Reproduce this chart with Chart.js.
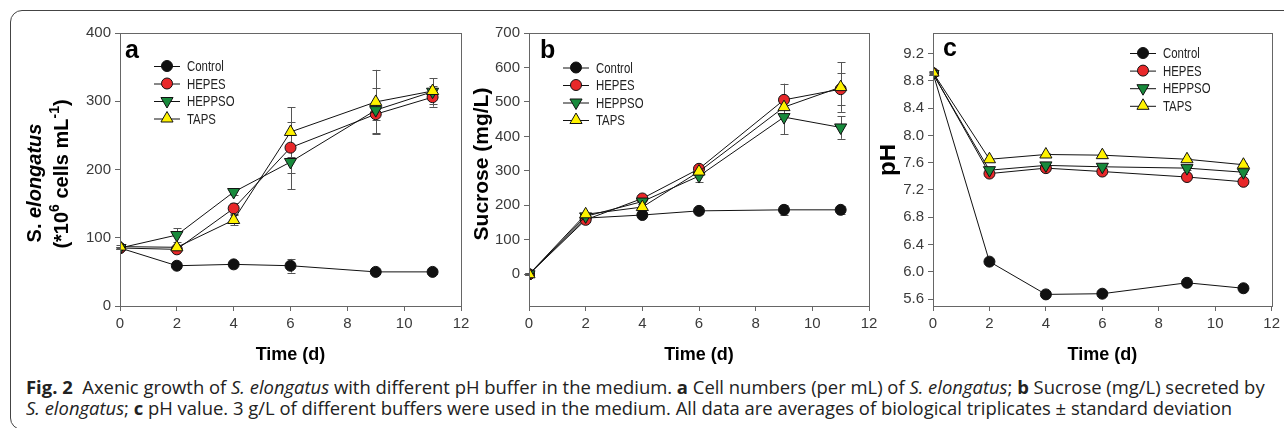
<!DOCTYPE html>
<html>
<head>
<meta charset="utf-8">
<script src="https://cdn.jsdelivr.net/npm/chart.js@4.4.0/dist/chart.umd.min.js"></script>
<style>
body { margin: 0; background: #fff; width: 1284px; height: 428px; overflow: hidden; position: relative; font-family: "Liberation Sans", Arial, sans-serif; }
#frame { position: absolute; left: 10px; top: 10px; width: 1300px; height: 420px; border: 1px solid #444; border-radius: 12px; box-sizing: border-box; }
canvas { position: absolute; top: 0; }
.cap { position: absolute; left: 26px; white-space: nowrap; font-family: "Open Sans", sans-serif; font-size: 18px; color: #222; transform-origin: 0 50%; line-height: 20px; }
</style>
</head>
<body>
<div id="frame"></div>
<canvas id="chartA" width="500" height="370" style="left:0px"></canvas>
<canvas id="chartB" width="460" height="370" style="left:440px"></canvas>
<canvas id="chartC" width="404" height="370" style="left:880px"></canvas>
<div class="cap" id="cap1" style="top:377px"><b>Fig. 2</b>&nbsp; Axenic growth of <i>S. elongatus</i> with different pH buffer in the medium. <b>a</b> Cell numbers (per mL) of <i>S. elongatus</i>; <b>b</b> Sucrose (mg/L) secreted by</div>
<div class="cap" id="cap2" style="top:398px"><i>S. elongatus</i>; <b>c</b> pH value. 3 g/L of different buffers were used in the medium. All data are averages of biological triplicates ± standard deviation</div>
<script>
// 공통 데이터
const days = [0, 2, 4, 6, 9, 11];
const seriesNames = ['Control', 'HEPES', 'HEPPSO', 'TAPS'];
const xTicks = [0, 2, 4, 6, 8, 10, 12];

// a: 세포 수 (*10^6 cells/mL)
const cellsControl = [85, 59, 61, 59, 50, 50];
const cellsHepes = [85, 83, 143, 232, 281, 306];
const cellsHeppso = [85, 104, 167, 211, 287, 314];
const cellsTaps = [87, 86, 126, 255, 299, 315];
const cellsControlErr = [2, 3, 3, 10, 3, 3];
const cellsHepesErr = [2, 3, 8, 37, 8, 14];
const cellsHeppsoErr = [2, 10, 5, 40, 33, 8];
const cellsTapsErr = [2, 3, 8, 36, 47, 19];
const cellsTicks = [0, 100, 200, 300, 400];

// b: 수크로스 (mg/L)
const sucControl = [0, 163, 172, 184, 187, 187];
const sucHepes = [0, 158, 220, 306, 506, 537];
const sucHeppso = [0, 168, 211, 285, 456, 426];
const sucTaps = [0, 174, 195, 298, 485, 543];
const sucControlErr = [2, 5, 8, 10, 15, 12];
const sucHepesErr = [3, 5, 8, 10, 47, 47];
const sucHeppsoErr = [3, 5, 8, 17, 50, 33];
const sucTapsErr = [3, 5, 8, 10, 20, 72];
const sucTicks = [0, 100, 200, 300, 400, 500, 600, 700];

// c: pH
const phControl = [8.91, 6.15, 5.67, 5.68, 5.84, 5.76];
const phHepes = [8.91, 7.44, 7.52, 7.47, 7.39, 7.32];
const phHeppso = [8.90, 7.49, 7.56, 7.54, 7.52, 7.46];
const phTaps = [8.92, 7.65, 7.72, 7.71, 7.65, 7.57];
const phErr = [0.02, 0.02, 0.02, 0.02, 0.02, 0.02];
const phTicks = [5.6, 6.0, 6.4, 6.8, 7.2, 7.6, 8.0, 8.4, 8.8, 9.2];

// 마커 스타일
const styles = [
    { pointStyle: 'circle', rotation: 0, radius: 5.5, color: '#111111' },   // Control
    { pointStyle: 'circle', rotation: 0, radius: 5.5, color: '#e8282a' },   // HEPES
    { pointStyle: 'triangle', rotation: 180, radius: 7, color: '#188a3c' }, // HEPPSO
    { pointStyle: 'triangle', rotation: 0, radius: 7, color: '#fff200' }    // TAPS
];
const AXIS = '#666666';
const FONT = '"Liberation Sans", Arial, sans-serif';

function makeDatasets(values, errs) {
    return values.map(function(vals, i) {
        const st = styles[i];
        return {
            label: seriesNames[i],
            data: vals.map(function(v, k) { return { x: days[k], y: v }; }),
            errors: errs[i],
            borderColor: '#111',
            borderWidth: 1,
            pointStyle: st.pointStyle,
            rotation: st.rotation,
            pointRadius: st.radius,
            pointBackgroundColor: st.color,
            pointBorderColor: '#111',
            pointBorderWidth: 1,
            order: 3 - i,
            tension: 0
        };
    });
}

// 제목, 범례, 오차 막대를 그리는 플러그인
const panelPlugin = {
    id: 'panel',
    beforeDatasetsDraw: function(chart) {
        const ctx = chart.ctx;
        const ys = chart.scales.y, xs = chart.scales.x;
        ctx.save();
        ctx.strokeStyle = '#555';
        ctx.lineWidth = 1;
        chart.data.datasets.forEach(function(ds) {
            ds.data.forEach(function(p, k) {
                const e = ds.errors[k];
                if (!e) return;
                const px = Math.round(xs.getPixelForValue(p.x)) + 0.5;
                const y1 = ys.getPixelForValue(p.y + e), y2 = ys.getPixelForValue(p.y - e);
                ctx.beginPath();
                ctx.moveTo(px, y1); ctx.lineTo(px, y2);
                ctx.moveTo(px - 4, Math.round(y1) + 0.5); ctx.lineTo(px + 4, Math.round(y1) + 0.5);
                ctx.moveTo(px - 4, Math.round(y2) + 0.5); ctx.lineTo(px + 4, Math.round(y2) + 0.5);
                ctx.stroke();
            });
        });
        ctx.restore();
    },
    afterDraw: function(chart) {
        const o = chart.options.plugins.panel;
        const ctx = chart.ctx;
        const a = chart.chartArea;
        ctx.save();
        // 플롯 테두리
        ctx.strokeStyle = AXIS;
        ctx.lineWidth = 1;
        ctx.strokeRect(Math.round(a.left) + 0.5, Math.round(a.top) + 0.5, Math.round(a.right - a.left), Math.round(a.bottom - a.top));
        // 패널 문자
        ctx.fillStyle = '#000';
        ctx.font = 'bold 25px ' + FONT;
        ctx.textBaseline = 'middle';
        ctx.textAlign = 'left';
        ctx.fillText(o.letter, o.letterX, o.letterY);
        // x축 제목
        ctx.font = 'bold 18px ' + FONT;
        ctx.textAlign = 'center';
        ctx.fillText('Time (d)', (a.left + a.right) / 2, 355);
        // y축 제목
        o.yTitle.forEach(function(line) {
            drawRotatedRuns(ctx, line.runs, line.x, line.y, line.size || 20);
        });
        // 범례 (좁은 글꼴 느낌으로 가로 축소)
        ctx.font = '15px ' + FONT;
        ctx.textAlign = 'left';
        seriesNames.forEach(function(name, i) {
            const ly = o.legendY + i * o.legendGap;
            ctx.strokeStyle = '#111';
            ctx.lineWidth = 1;
            ctx.beginPath();
            ctx.moveTo(o.legendX, ly + 0.5); ctx.lineTo(o.legendX + 26, ly + 0.5);
            ctx.stroke();
            ctx.fillStyle = styles[i].color;
            ctx.strokeStyle = '#111';
            Chart.helpers.drawPoint(ctx, { pointStyle: styles[i].pointStyle, rotation: styles[i].rotation, radius: styles[i].radius, borderWidth: 1 }, o.legendX + 13, ly);
            ctx.save();
            ctx.translate(o.legendX + 33, ly + 1);
            ctx.scale(0.76, 1);
            ctx.fillStyle = '#222';
            ctx.fillText(name, 0, 0);
            ctx.restore();
        });
        ctx.restore();
    }
};

// 회전된 제목 (굵게/기울임/위첨자 혼합)
function drawRotatedRuns(ctx, runs, cx, cy, size) {
    ctx.save();
    ctx.translate(cx, cy);
    ctx.rotate(-Math.PI / 2);
    ctx.fillStyle = '#000';
    ctx.textBaseline = 'middle';
    ctx.textAlign = 'left';
    const fonts = runs.map(function(r) {
        const s = r.sup ? Math.round(size * 0.68) : size;
        return (r.italic ? 'italic ' : '') + 'bold ' + s + 'px ' + FONT;
    });
    let total = 0;
    runs.forEach(function(r, i) { ctx.font = fonts[i]; total += ctx.measureText(r.t).width; });
    let x = -total / 2;
    runs.forEach(function(r, i) {
        ctx.font = fonts[i];
        ctx.fillText(r.t, x, r.sup ? -7 : 0);
        x += ctx.measureText(r.t).width;
    });
    ctx.restore();
}

function makeChart(id, datasets, yMin, yMax, yTicks, yWidth, padRight, decimals, panel) {
    return new Chart(document.getElementById(id).getContext('2d'), {
        type: 'line',
        data: { datasets: datasets },
        options: {
            responsive: false,
            animation: false,
            layout: { padding: { left: 0, top: 33, right: padRight, bottom: 0 } },
            plugins: { legend: { display: false }, tooltip: { enabled: false }, panel: panel },
            scales: {
                x: {
                    type: 'linear', min: 0, max: 12,
                    afterBuildTicks: function(s) { s.ticks = xTicks.map(function(v) { return { value: v }; }); },
                    afterFit: function(s) { s.height = 64; },
                    grid: { drawOnChartArea: false, drawTicks: true, tickLength: 5, color: AXIS },
                    border: { color: AXIS },
                    ticks: { color: '#3a3a3a', font: { size: 15, family: FONT }, padding: 4, maxRotation: 0, autoSkip: false }
                },
                y: {
                    type: 'linear', min: yMin, max: yMax,
                    afterBuildTicks: function(s) { s.ticks = yTicks.map(function(v) { return { value: v }; }); },
                    afterFit: function(s) { s.width = yWidth; },
                    grid: { drawOnChartArea: false, drawTicks: true, tickLength: 5, color: AXIS },
                    border: { color: AXIS },
                    ticks: {
                        color: '#3a3a3a', font: { size: 15, family: FONT }, padding: 4, autoSkip: false,
                        callback: function(v) { return v.toFixed(decimals); }
                    }
                }
            }
        },
        plugins: [panelPlugin]
    });
}

document.addEventListener('DOMContentLoaded', function() {
    makeChart('chartA',
        makeDatasets([cellsControl, cellsHepes, cellsHeppso, cellsTaps], [cellsControlErr, cellsHepesErr, cellsHeppsoErr, cellsTapsErr]),
        0, 400, cellsTicks, 120, 39, 0,
        {
            letter: 'a', letterX: 125, letterY: 51,
            legendX: 154, legendY: 66, legendGap: 17.5,
            yTitle: [
                { x: 35, y: 183, runs: [{ t: 'S. ' }, { t: 'elongatus', italic: true }] },
                { x: 62, y: 174, runs: [{ t: '(*10' }, { t: '6', sup: true }, { t: ' cells mL' }, { t: '-1', sup: true }, { t: ')' }] }
            ]
        });

    makeChart('chartB',
        makeDatasets([sucControl, sucHepes, sucHeppso, sucTaps], [sucControlErr, sucHepesErr, sucHeppsoErr, sucTapsErr]),
        -92, 700, sucTicks, 89, 31, 0,
        {
            letter: 'b', letterX: 100, letterY: 51,
            legendX: 123, legendY: 67.5, legendGap: 17.5,
            yTitle: [{ x: 42, y: 164, size: 21, runs: [{ t: 'Sucrose (mg/L)' }] }]
        });

    makeChart('chartC',
        makeDatasets([phControl, phHepes, phHeppso, phTaps], [phErr, phErr, phErr, phErr]),
        5.5, 9.5, phTicks, 53, 10, 1,
        {
            letter: 'c', letterX: 63, letterY: 49,
            legendX: 250, legendY: 53, legendGap: 17.6,
            yTitle: [{ x: 8, y: 160, size: 24, runs: [{ t: 'pH' }] }]
        });

    // 캡션 너비 맞추기
    const c1 = document.getElementById('cap1'), c2 = document.getElementById('cap2');
    const k = 1239 / c1.offsetWidth;
    c1.style.transform = 'scaleX(' + k + ')';
    c2.style.transform = 'scaleX(' + k + ')';
});
</script>
</body>
</html>
